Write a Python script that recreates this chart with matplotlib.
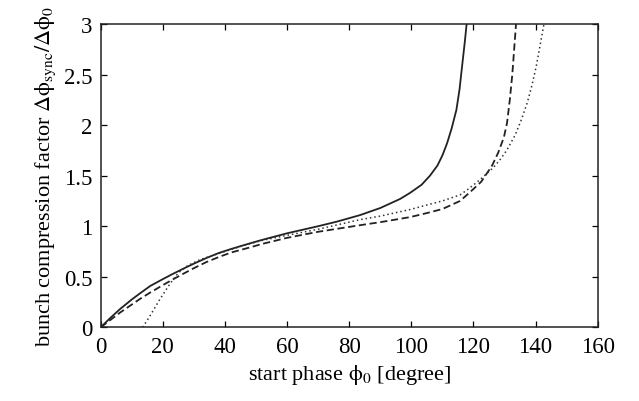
import matplotlib
matplotlib.use("Agg")
import matplotlib.pyplot as plt

# start phase [degree] and compression factor
solid_x = [0, 3, 6.2, 10, 12.6, 16, 19.6, 23, 26.6, 30, 34, 38, 42, 48, 52,
           60, 70, 76, 83.5, 90, 96.4, 99.6, 103.3, 106, 108.4, 110, 111.5,
           113, 114.5, 115.5, 116.4, 117.2, 117.8]
solid_y = [0, 0.09, 0.18, 0.275, 0.335, 0.41, 0.47, 0.525, 0.58, 0.63, 0.685,
           0.735, 0.775, 0.83, 0.865, 0.93, 1.0, 1.045, 1.11, 1.18, 1.27, 1.33,
           1.41, 1.50, 1.60, 1.70, 1.82, 1.97, 2.15, 2.35, 2.6, 2.82, 3.0]

dashed_x = [0, 3, 6.2, 10, 12.6, 16, 19.6, 23, 26.6, 30, 34, 38, 42, 48, 52,
            60, 70, 83.5, 90, 99.6, 105, 110, 115.7, 119, 122.5, 126, 128,
            129.8, 130.8, 131.7, 132.5, 133.1, 133.7]
dashed_y = [0, 0.07, 0.145, 0.225, 0.28, 0.345, 0.41, 0.47, 0.53, 0.585, 0.645,
            0.695, 0.74, 0.79, 0.825, 0.885, 0.945, 1.01, 1.04, 1.09, 1.13, 1.17,
            1.25, 1.34, 1.44, 1.60, 1.73, 1.88, 2.02, 2.25, 2.5, 2.75, 3.0]

dotted_x = [13.5, 15.9, 19.1, 22.3, 25, 28, 32, 38, 45, 52, 60, 70, 83.5, 90,
            99.6, 105, 110, 115.7, 118, 120.5, 123.2, 126.4, 128.6, 130.7,
            133.4, 135.5, 137.3, 138.8, 140.2, 141.4, 142.7]
dotted_y = [0, 0.115, 0.28, 0.43, 0.54, 0.61, 0.67, 0.73, 0.80, 0.86, 0.91,
            0.97, 1.065, 1.10, 1.165, 1.21, 1.25, 1.31, 1.36, 1.42, 1.49, 1.58,
            1.66, 1.75, 1.90, 2.06, 2.22, 2.39, 2.58, 2.78, 3.0]

x_ticks = [0, 20, 40, 60, 80, 100, 120, 140, 160]
y_ticks = [0, 0.5, 1, 1.5, 2, 2.5, 3]
y_ticklabels = ['0', '0.5', '1', '1.5', '2', '2.5', '3']

plt.rcParams['font.family'] = 'Liberation Serif'
plt.rcParams['mathtext.fontset'] = 'stix'
plt.rcParams['font.size'] = 16

fig = plt.figure(figsize=(6.39, 4.02), dpi=100)
ax = fig.add_axes([0.1576, 0.1833, 0.7778, 0.7545])

ax.plot(solid_x, solid_y, color='#222222', lw=1.3)
ax.plot(dashed_x, dashed_y, color='#222222', lw=1.3, linestyle=(0, (4, 2)))
ax.plot(dotted_x, dotted_y, color='#333333', lw=1.1, linestyle=(0, (1, 1.9)))

ax.set_xlim(0, 160)
ax.set_ylim(0, 3)
ax.set_xticks(x_ticks)
ax.set_yticks(y_ticks)
ax.set_yticklabels(y_ticklabels)
ax.tick_params(direction='in', length=4.5, width=0.9, top=True, right=True,
               labelsize=16.5, pad=6)
for s in ax.spines.values():
    s.set_linewidth(1.1)
    s.set_color('#222222')

ax.set_xlabel(r'start phase $\mathrm{\phi}_0$ [degree]', fontsize=16, labelpad=4)
ax.set_ylabel(r'bunch compression factor $\Delta\mathrm{\phi}_{\mathrm{sync}}/\Delta\mathrm{\phi}_0$',
              fontsize=16, labelpad=4)

fig.savefig('out.png', dpi=100)
